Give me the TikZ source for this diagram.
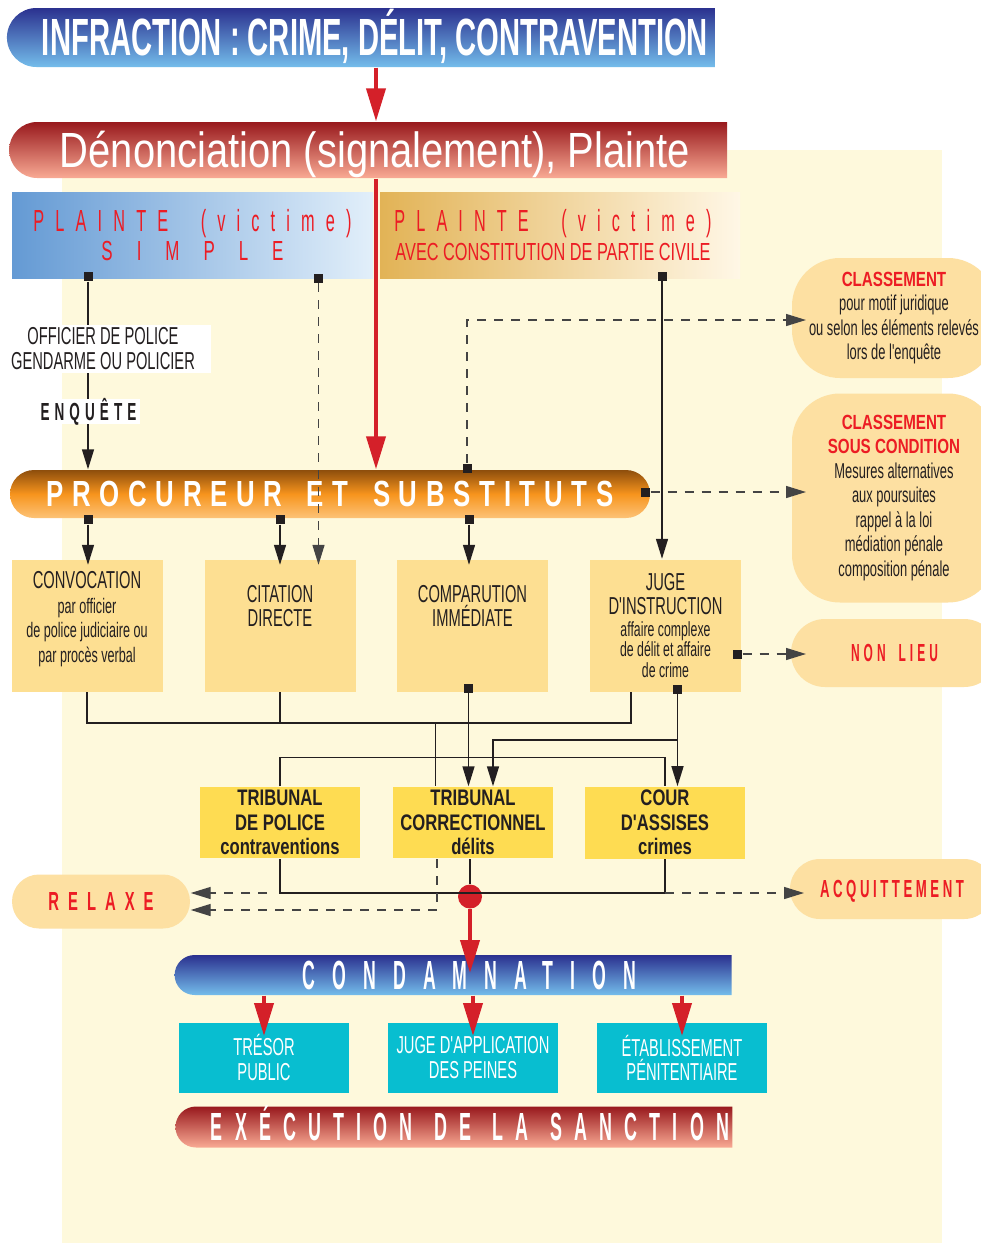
\documentclass[tikz,border=0pt]{standalone}
\usepackage{fontspec}
\usepackage{graphicx}
\usetikzlibrary{arrows.meta, shapes.misc}

\newfontfamily\cond[FakeStretch=0.6]{Liberation Sans}
\newfontfamily\condb[FakeStretch=0.74]{Liberation Sans Bold}
\newfontfamily\wide{Liberation Sans}
\newcommand\fit[4]{\resizebox{#1}{#2}{#3\vphantom{X}\smash{#4}}}
\newcommand\ls[1]{\addfontfeatures{LetterSpace=#1}}
\newcommand\sm{\fontsize{21}{25}\selectfont}
\newcommand\gap[1]{\hspace{#1em}}

\definecolor{cream}{HTML}{FEF9DC}
\definecolor{navy}{HTML}{2B318F}
\definecolor{sky}{HTML}{74BDEB}
\definecolor{wine}{HTML}{98191D}
\definecolor{salmon}{HTML}{F9AA94}
\definecolor{brown}{HTML}{8E4E0C}
\definecolor{amber}{HTML}{F7941D}
\definecolor{peach}{HTML}{FDC377}
\definecolor{bluel}{HTML}{649AD4}
\definecolor{bluer}{HTML}{E2EFFA}
\definecolor{goldl}{HTML}{E2B356}
\definecolor{goldr}{HTML}{FFF7E6}
\definecolor{sand}{HTML}{FDE0A2}
\definecolor{paper}{HTML}{FDDF92}
\definecolor{yolk}{HTML}{FEDC52}
\definecolor{aqua}{HTML}{08BED0}
\definecolor{alarm}{HTML}{D42029}
\definecolor{scarlet}{HTML}{EC1C24}
\definecolor{ink}{HTML}{231F20}
\definecolor{grayline}{HTML}{444444}

\begin{document}
\begin{tikzpicture}[
            x = 1pt, y = -1pt, % one unit per pixel, y downwards
            > = {Triangle[length=20pt, width=12pt]}, % arrow head style
            line width = 1.4pt,
            ink
        ]

        \tikzstyle{sq}=[fill=ink, minimum size=9pt, inner sep=0pt]
        \tikzstyle{banner}=[rounded rectangle, inner sep=0pt, text=white]
        \tikzstyle{box}=[fill=paper, minimum width=151, minimum height=132,
            align=center, text=ink, font=\cond\fontsize{24.5}{24.5}\selectfont]
        \tikzstyle{court}=[fill=yolk, minimum width=160, minimum height=70,
            align=center, text=ink, font=\condb\fontsize{22.5}{24.5}\selectfont]
        \tikzstyle{execbox}=[fill=aqua, minimum width=170, minimum height=70,
            align=center, text=white, font=\cond\fontsize{24.5}{24.5}\selectfont]
        \tikzstyle{classbox}=[rectangle, rounded corners=48pt, fill=sand, align=center,
            text=ink, font=\cond\fontsize{21.5}{24.5}\selectfont]
        \tikzstyle{outcome}=[rounded rectangle, fill=sand, text=scarlet, inner sep=0pt]
        \tikzstyle{redline}=[alarm, line width=4pt, -{Triangle[length=33pt, width=19pt]}]
        \tikzstyle{dashline}=[grayline, dash pattern=on 9pt off 8pt, ->]

        \fill[white] (0,0) rectangle (981,1243);
        \useasboundingbox (0,0) rectangle (981,1243);
        \fill[cream] (62,150) rectangle (942,1243);

        % banners
        \node[banner, rounded rectangle right arc=none, top color=navy, bottom color=sky,
            minimum width=708, minimum height=59] (infr) at (364,37.5)
            {\hspace*{22pt}\fit{666pt}{36pt}{\condb}{INFRACTION : CRIME, DÉLIT, CONTRAVENTION}};
        \node[banner, rounded rectangle right arc=none, top color=wine, bottom color=salmon,
            minimum width=718, minimum height=56] (deno) at (371,150)
            {\hspace*{8pt}\fit{630pt}{34pt}{\wide}{Dénonciation (signalement), Plainte}};

        \node[left color=bluel, right color=bluer, minimum width=361, minimum height=86,
            align=center, text=scarlet, font=\fontsize{10}{29}\selectfont] (simple) at (192.5,235)
            {\fit{318pt}{21pt}{\cond\ls{41}}{PLAINTE\gap{1.2}(victime)}\\
             \fit{182pt}{19pt}{\cond\ls{85}}{SIMPLE}};
        \node[left color=goldl, right color=goldr, minimum width=360, minimum height=86,
            align=center, text=scarlet, font=\fontsize{10}{29}\selectfont] (civile) at (560,235)
            {\fit{317pt}{21pt}{\cond\ls{41}}{PLAINTE\gap{1.2}(victime)}\hspace*{14pt}\\
             \fit{315pt}{17pt}{\cond}{AVEC CONSTITUTION DE PARTIE CIVILE}\hspace*{14pt}};

        \node[banner, top color=brown, bottom color=peach, middle color=amber,
            minimum width=640, minimum height=48] (proc) at (330,494)
            {\fit{567pt}{25pt}{\condb\ls{25}}{PROCUREUR\gap{0.7}ET\gap{0.7}SUBSTITUTS}};

        % right hand outcomes
        \node[classbox, minimum width=204, minimum height=120] (cl1) at (894,318)
            {{\condb\fontsize{20.5}{24.5}\selectfont\color{scarlet}CLASSEMENT}\\
             pour motif juridique\\ou selon les éléments relevés\\lors de l'enquête};
        \node[classbox, minimum width=204, minimum height=209] (cl2) at (894,498)
            {{\condb\fontsize{20.5}{24.5}\selectfont\color{scarlet}CLASSEMENT}\\
             {\condb\fontsize{20.5}{24.5}\selectfont\color{scarlet}SOUS CONDITION}\\
             Mesures alternatives\\aux poursuites\\rappel à la loi\\
             médiation pénale\\composition pénale};
        \node[outcome, minimum width=207, minimum height=68] (nonlieu) at (894.5,653)
            {\fit{87pt}{17pt}{\condb\ls{25}}{NON\gap{0.8}LIEU}};
        \node[outcome, minimum width=178, minimum height=54] (relaxe) at (101,901.5)
            {\fit{105pt}{18pt}{\condb\ls{45}}{RELAXE}};
        \node[outcome, minimum width=204, minimum height=60] (acq) at (892,889)
            {\fit{144pt}{17pt}{\condb\ls{20}}{ACQUITTEMENT}};

        % procedures
        \node[box, text depth=17pt] (conv) at (87,625.5)
            {CONVOCATION\\{\sm par officier}\\{\sm de police judiciaire ou}\\{\sm par procès verbal}};
        \node[box, text depth=39pt] (cit) at (280,625.5) {CITATION\\DIRECTE};
        \node[box, text depth=39pt] (comp) at (472.5,625.5) {COMPARUTION\\IMMÉDIATE};
        \node[box] (juge) at (665.5,625.5)
            {JUGE\\D'INSTRUCTION\\[-3pt]{\fontsize{20.5}{21}\selectfont affaire complexe}\\[-4pt]
             {\fontsize{20.5}{21}\selectfont de délit et affaire}\\[-4pt]
             {\fontsize{20.5}{21}\selectfont de crime}};

        % courts
        \node[court] (tpol) at (280,822.7) {TRIBUNAL\\DE POLICE\\contraventions};
        \node[court] (tcor) at (473,822.7) {TRIBUNAL\\CORRECTIONNEL\\délits};
        \node[court] (cour) at (665,822.7) {COUR\\D'ASSISES\\crimes};

        \node[banner, rounded rectangle right arc=none, top color=navy, bottom color=sky,
            minimum width=557, minimum height=40] (cond) at (456,975)
            {\hspace*{27pt}\fit{333pt}{28pt}{\condb\ls{71}}{CONDAMNATION}};

        \node[execbox] (tres) at (264,1057.7) {TRÉSOR\\PUBLIC};
        \node[execbox] (jap) at (473,1057.7) {JUGE D'APPLICATION\\DES PEINES};
        \node[execbox] (etab) at (682,1057.7) {ÉTABLISSEMENT\\PÉNITENTIAIRE};

        \node[banner, rounded rectangle right arc=none, top color=wine, bottom color=salmon,
            minimum width=557, minimum height=41] (exe) at (456.5,1127)
            {\hspace*{27pt}\fit{518pt}{27pt}{\condb\ls{50}}{EXÉCUTION\gap{0.9}DE\gap{0.9}LA\gap{0.9}SANCTION}};

        % connector ends
        \node[sq] (sA) at (88,276.5) {};
        \node[sq] (sB) at (318.5,278) {};
        \node[sq] (sC) at (662,276) {};
        \node[sq] (sD) at (88,519.5) {};
        \node[sq] (sE) at (280,519.5) {};
        \node[sq] (sF) at (469,519.5) {};
        \node[sq] (sG) at (467,468) {};
        \node[sq] (sH) at (645.5,492) {};
        \node[sq] (sI) at (468.5,688) {};
        \node[sq] (sJ) at (677.5,689) {};
        \node[sq] (sK) at (737.5,654) {};
        \node[circle, fill=alarm, minimum size=24pt, inner sep=0pt] (dot) at (470,896.5) {};

        \coordinate (axis) at (376,0);
        \coordinate (tipA) at (806,320);
        \coordinate (tipB) at (806,492);
        \coordinate (tipC) at (806,654);
        \coordinate (tipD) at (804,893);
        \coordinate (jA) at (631,723);
        \coordinate (jB) at (435.5,723);
        \coordinate (jC) at (677.5,740);
        \coordinate (bt) at (665,893);
        \coordinate (rA) at (267,893);
        \coordinate (rB) at (437,910);
        \coordinate (cA) at (470,973);

        % red flow
        \draw[redline] (infr.south -| axis) -- (deno.north -| axis);
        \draw[redline] (deno.south -| axis) -- (proc.north -| axis);

        % plaintes
        \draw[->] (sA) -- (sA |- proc.north);
        \draw[dashline] (sB) -- ([yshift=-6pt]sB |- cit.north);
        \draw[->] (sC) -- (sC |- juge.north);

        \node[fill=white, inner xsep=6pt, inner ysep=2.5pt, align=center,
            font=\cond\fontsize{24.5}{25}\selectfont] (offi) at (108,349)
            {OFFICIER DE POLICE\hspace*{10pt}\\GENDARME OU POLICIER\hspace*{10pt}};
        \node[fill=white, inner xsep=3.5pt, inner ysep=4pt] (enq) at (88.5,411.5)
            {\fit{96pt}{17pt}{\condb\ls{28}}{ENQUÊTE}};

        % procureur
        \draw[->] (sD) -- ([yshift=-6pt]sD |- conv.north);
        \draw[->] (sE) -- ([yshift=-6pt]sE |- cit.north);
        \draw[->] (sF) -- ([yshift=-6pt]sF |- comp.north);
        \draw[dashline] (sG) |- (tipA);
        \draw[dashline] (sH) -- (tipB);
        \draw[dashline] (sK) -- (tipC);

        % towards the courts
        \draw (conv.south) |- (jA) -- (jA |- juge.south);
        \draw (cit.south) -- (cit.south |- jA);
        \draw (jB) -- (jB |- tcor.north);
        \draw (tpol.north) |- ([yshift=29pt]cour.north) -- (cour.north);
        \draw[->] (sI) -- (sI |- tcor.north);
        \draw[->] (sJ) -- (sJ |- cour.north);
        \draw[->] (jC) -| ([xshift=20pt]tcor.north);

        % verdicts
        \draw (tpol.south) |- (bt) -- (cour.south);
        \draw (tcor.south -| dot) -- (dot);
        \draw[dashline] (rA) -- (relaxe.east |- rA);
        \draw[dashline] (tcor.south -| rB) |- (relaxe.east |- rB);
        \draw[dashline] (bt) -- (tipD);

        \draw[redline] (dot) -- (cA);
        \draw[redline] (cond.south -| tres) -- ([yshift=-14pt]tres.north);
        \draw[redline] (cond.south -| jap) -- ([yshift=-14pt]jap.north);
        \draw[redline] (cond.south -| etab) -- ([yshift=-14pt]etab.north);
    \end{tikzpicture}
\end{document}
